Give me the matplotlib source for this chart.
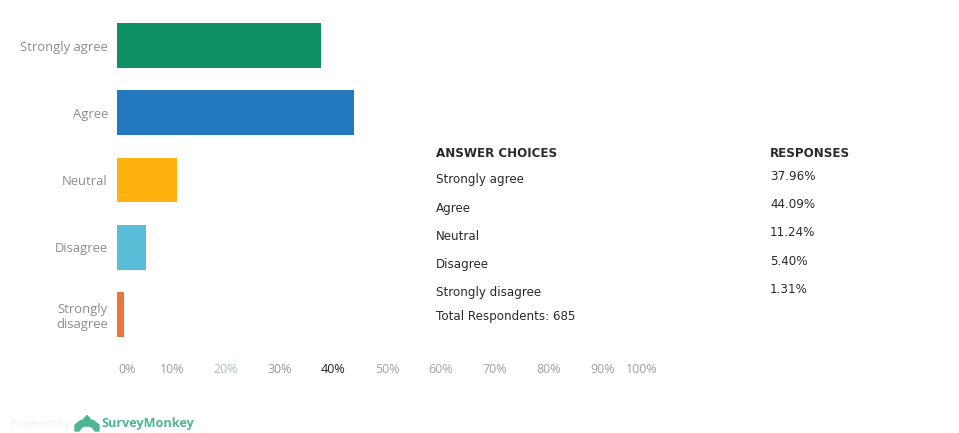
import numpy as np
import matplotlib
matplotlib.use("Agg")
import matplotlib.pyplot as plt
from matplotlib.patches import Polygon
from matplotlib.transforms import ScaledTranslation

# Svarfordeling
categories = ["Strongly agree", "Agree", "Neutral", "Disagree", "Strongly\ndisagree"]
table_names = ["Strongly agree", "Agree", "Neutral", "Disagree", "Strongly disagree"]
values = [37.96, 44.09, 11.24, 5.40, 1.31]
response_labels = ["37.96%", "44.09%", "11.24%", "5.40%", "1.31%"]
bar_colors = ["#0f8f64", "#2379bd", "#ffb10f", "#5abdd7", "#e8753a"]
x_ticks = [0, 10, 20, 30, 40, 50, 60, 70, 80, 90, 100]
x_tick_labels = ["0%", "10%", "20%", "30%", "40%", "50%", "60%", "70%", "80%", "90%", "100%"]
x_tick_colors = ["#9a9a9a", "#a0a0a0", "#a9c4b8", "#9a9a9a", "#222222", "#a5a5a5",
                 "#a5a5a5", "#a0a0a0", "#a0a0a0", "#a0a0a0", "#a0a0a0"]
total_text = "Total Respondents: 685"

W, H = 959, 433
fig = plt.figure(figsize=(W / 100, H / 100), dpi=100)

# Stolpediagram, plassert i piksler
left, right, top, bottom = 117, 655, 12, 348
ax = fig.add_axes([left / W, 1 - bottom / H, (right - left) / W, (bottom - top) / H])
y = np.arange(len(values))
ax.barh(y, values, height=0.665, color=bar_colors)
ax.set_xlim(0, 100)
ax.set_ylim(len(values) - 0.5, -0.5)
for s in ax.spines.values():
    s.set_visible(False)

ax.set_yticks(y)
ax.set_yticklabels(categories, family="Open Sans", fontsize=9.4, color="#8c8c8c",
                   linespacing=1.25, multialignment="right")
ax.set_xticks(x_ticks)
ax.set_xticklabels(x_tick_labels, family="Open Sans", fontsize=9, color="#a0a0a0")
ax.tick_params(axis="y", length=0, pad=6.5)
ax.tick_params(axis="x", length=0, pad=11)
shift = ScaledTranslation(1 / 100, 0, fig.dpi_scale_trans)
shift_last = ScaledTranslation(2.5 / 100, 0, fig.dpi_scale_trans)
labs = ax.get_xticklabels()
for lab, c in zip(labs[:-1], x_tick_colors[:-1]):
    lab.set_color(c)
    lab.set_transform(lab.get_transform() + shift)
labs[-1].set_color(x_tick_colors[-1])
labs[-1].set_transform(labs[-1].get_transform() + shift_last)
labs[0].set_ha("left")
labs[-1].set_ha("right")

# Overlegg i pikselkoordinater for tabell og logo
over = fig.add_axes([0, 0, 1, 1])
over.set_xlim(0, W)
over.set_ylim(H, 0)
over.axis("off")
over.patch.set_alpha(0)

table_font = dict(family="DejaVu Sans", fontsize=8.6, color="#2a2a2a", va="center")
over.text(436, 153.5, "ANSWER CHOICES", fontweight="bold", **table_font)
over.text(770, 153.5, "RESPONSES", fontweight="bold", **table_font)
for i in range(len(table_names)):
    over.text(436, 180 + i * 28.2, table_names[i], **table_font)
    over.text(770, 176.5 + i * 28.2, response_labels[i], **table_font)
over.text(436, 316.5, total_text, **table_font)

# Logo og bunntekst
green = "#4db594"
over.text(10, 424, "Powered by", family="Open Sans", fontsize=7.8, color="#f0f0f0", va="center")
over.add_patch(Polygon([[75, 431], [75, 425], [80, 421], [83, 420], [87, 415.5], [91, 420],
                        [94, 421], [99, 425], [99, 431], [95, 431], [92, 427], [89, 426],
                        [85, 426], [82, 427], [79, 431]], closed=True, color=green))
over.text(101.5, 424, "SurveyMonkey", family="Open Sans", fontsize=9.1, fontweight="bold",
          color=green, va="center")

fig.savefig("out.png", dpi=100)
